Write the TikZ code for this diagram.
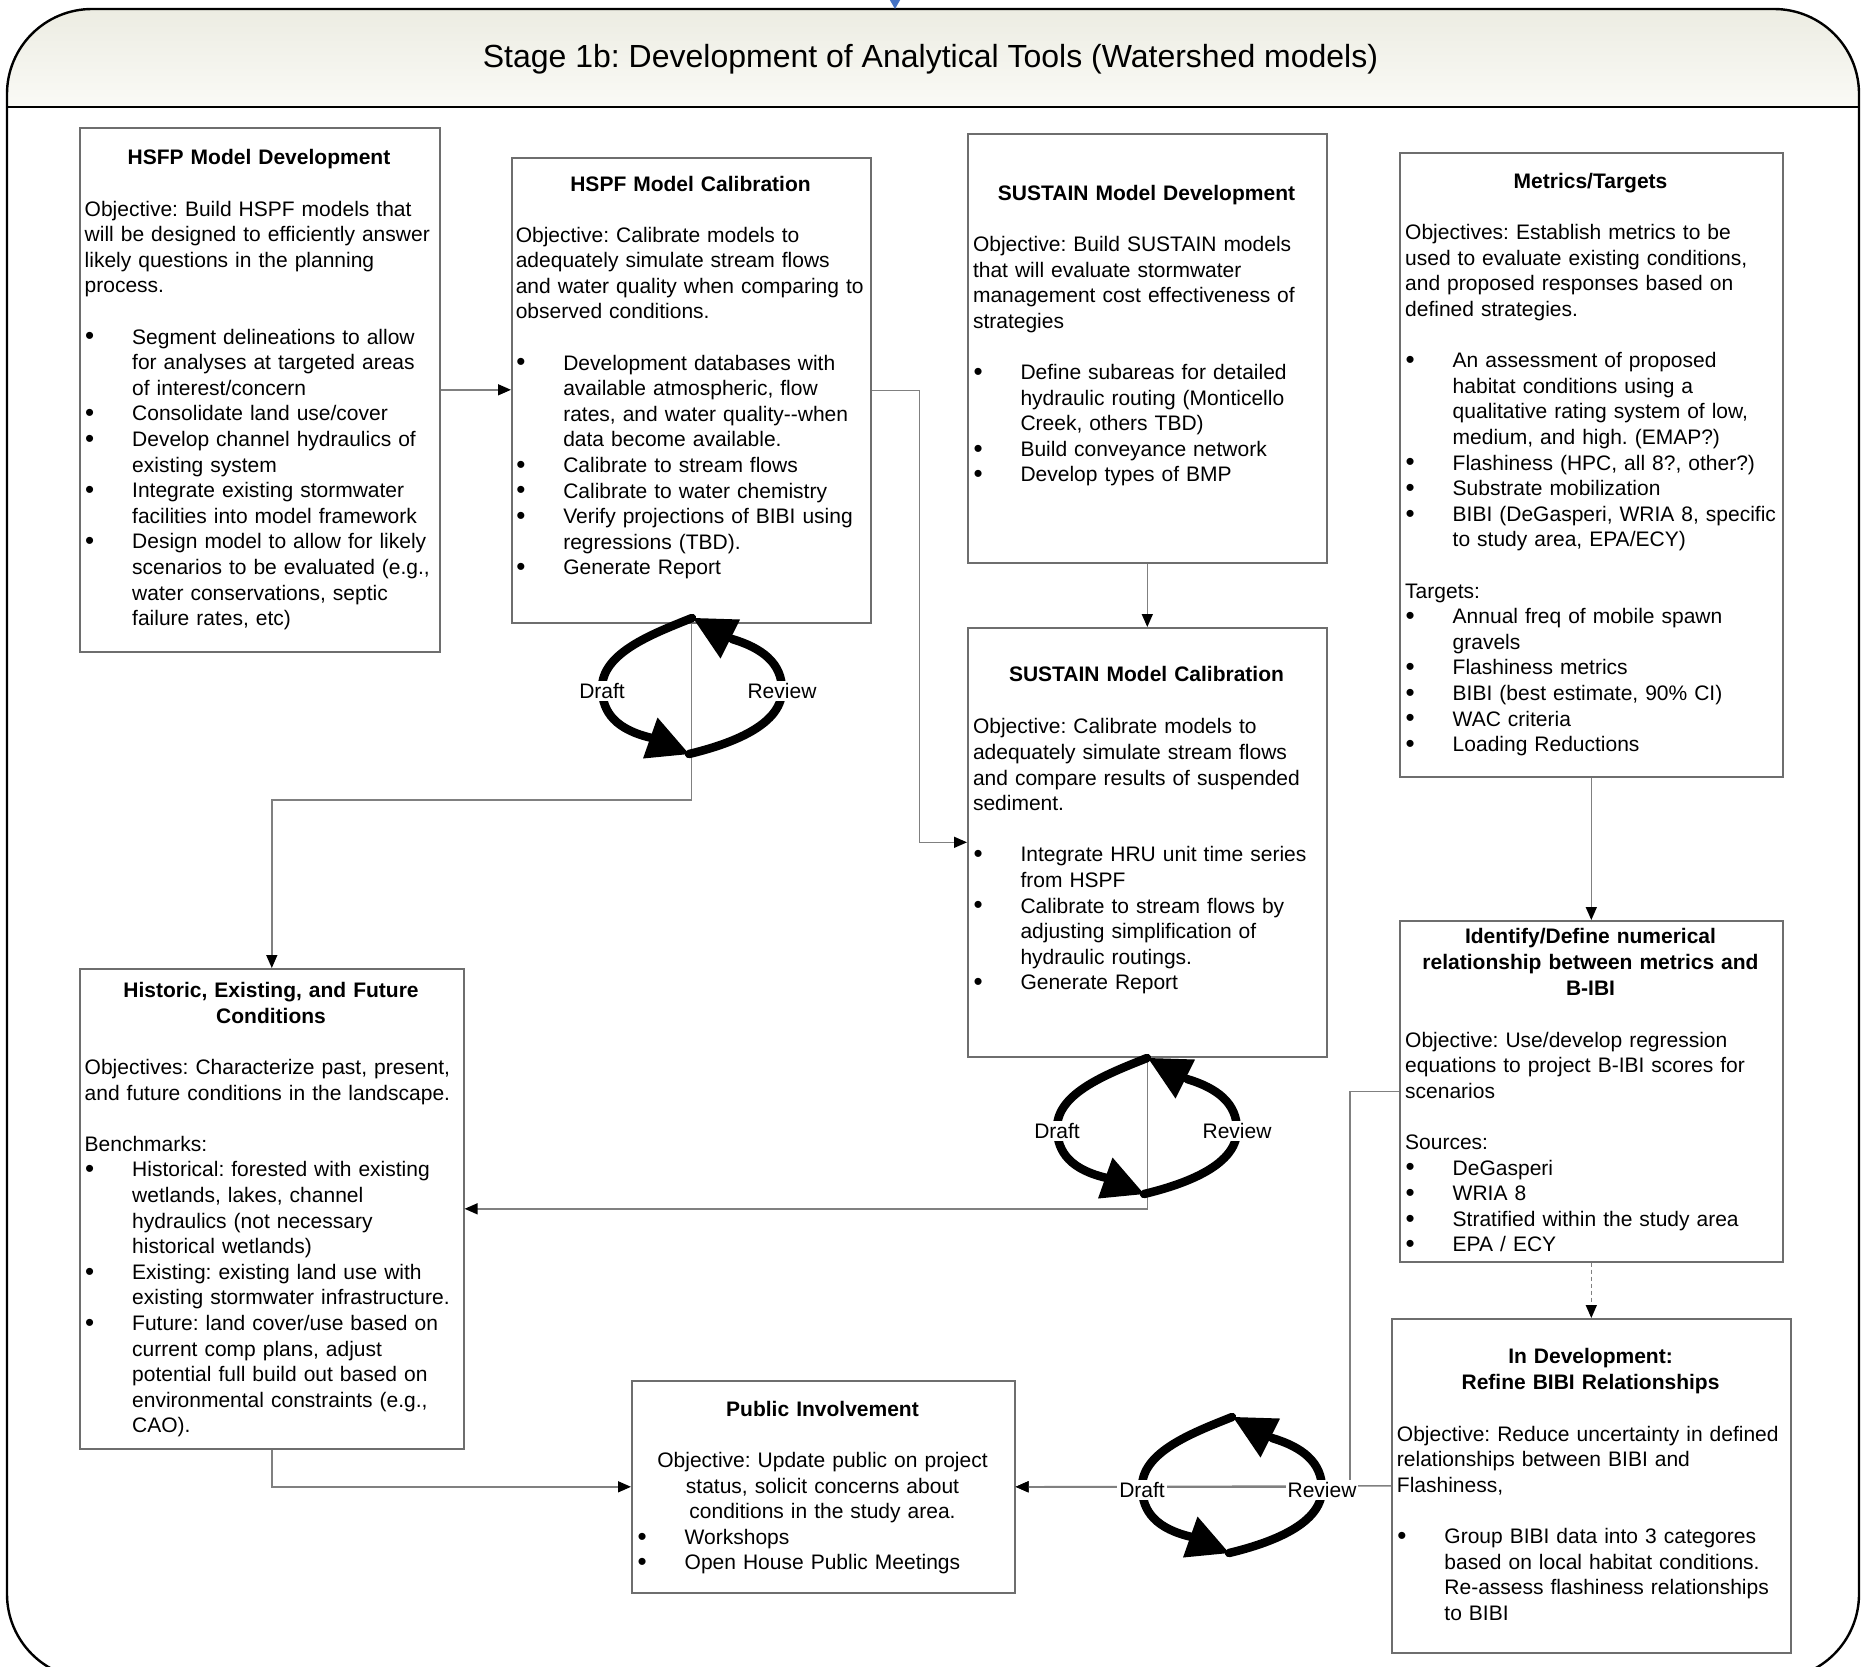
\documentclass[tikz,border=0pt]{standalone}
\usepackage{fontspec}
\setmainfont{Liberation Sans}
\usetikzlibrary{arrows.meta,calc}
\definecolor{boxgray}{RGB}{110,110,110}
\definecolor{linegray}{RGB}{128,128,128}
\definecolor{hdtop}{RGB}{236,236,226}
\definecolor{hdbot}{RGB}{250,250,246}
\definecolor{arrowblue}{RGB}{68,114,196}
\newcommand{\bul}{\makebox[47.5pt][l]{\hspace{0.5pt}\raisebox{-0.8pt}{\fontsize{26}{26}\selectfont\textbullet}}}
\newcommand{\ind}{\hspace*{47.5pt}}
\tikzset{
  box/.style={draw=boxgray, line width=1.6pt, fill=white, inner sep=0pt, anchor=north west},
  ttl/.style={font=\fontsize{21}{26}\selectfont\bfseries\frenchspacing, align=center, anchor=base, inner sep=0pt, text width=370pt},
  txt/.style={font=\fontsize{21}{25.6}\selectfont\frenchspacing, align=left, anchor=base west, inner sep=0pt, text width=420pt},
  ctxt/.style={font=\fontsize{21}{25.6}\selectfont\frenchspacing, align=center, anchor=base, inner sep=0pt, text width=380pt},
  conn/.style={draw=linegray, line width=1.5pt, -{Triangle[length=13pt,width=11pt,color=black]}},
  dconn/.style={conn, dash pattern=on 4pt off 3pt},
  cyc/.style={draw=black, line width=8.5pt, line cap=round},
  lbl/.style={font=\fontsize{21}{25}\selectfont, fill=white, inner sep=2pt},
}
\newcommand{\drcycle}[3]{%
  \begin{scope}[shift={(#1,#2)}]
    \draw[cyc] (0,0) .. controls (-40,16) and (-90,35) .. (-90,70)
               .. controls (-90,95) and (-75,112) .. (-40,120);
    \fill (-3,136) -- (-34.5,99.5) -- (-49,140.5) -- cycle;
    \draw[cyc] (-3,136) .. controls (30,128) and (90,110) .. (90,72)
               .. controls (90,45) and (70,30) .. (40,21);
    \fill (1,0) -- (48,1.5) -- (28.5,40.5) -- cycle;
    \node[lbl] (#3d) at (-90,73) {Draft};
    \node[lbl] (#3r) at (90,73) {Review};
  \end{scope}}
\begin{document}
\frenchspacing
\begin{tikzpicture}[x=1pt,y=-1pt]
\path[use as bounding box] (0,0) rectangle (1867,1666);
\clip (0,0) rectangle (1867,1666);
\fill[white] (0,0) rectangle (1867,1666);
% header shading
\begin{scope}
  \clip[rounded corners=85pt] (7,1679) -- (7,9) -- (1859,9) -- (1859,1679) -- cycle;
  \shade[top color=hdtop, bottom color=hdbot] (7,9) rectangle (1859,107);
\end{scope}
\draw[line width=2.4pt, rounded corners=85pt] (7,1679) -- (7,9) -- (1859,9) -- (1859,1679) -- cycle;
\draw[line width=2.4pt] (7,107) -- (1859,107);
\node[font=\fontsize{32}{38}\selectfont, anchor=base, inner sep=0pt] (hdr) at (930.5,67)
  {Stage 1b: Development of Analytical Tools (Watershed models)};
% incoming blue arrow
\coordinate (tin) at (895,-20);
\coordinate (tout) at (895,9);
\draw[arrowblue, line width=1.5pt, -{Triangle[length=10pt,width=11pt]}] (tin) -- (tout);

% boxes
\node[box, minimum width=360pt, minimum height=524pt] (b1) at (79,127) {};
\node[box, minimum width=359pt, minimum height=465pt] (b2) at (511,157) {};
\node[box, minimum width=359pt, minimum height=429pt] (b3) at (967,133) {};
\node[box, minimum width=383pt, minimum height=624pt] (b4) at (1399,152) {};
\node[box, minimum width=359pt, minimum height=429pt] (b5) at (967,627) {};
\node[box, minimum width=384pt, minimum height=480pt] (b6) at (79,968) {};
\node[box, minimum width=383pt, minimum height=341pt] (b7) at (1399,920) {};
\node[box, minimum width=399pt, minimum height=334pt] (b8) at (1391,1318) {};
\node[box, minimum width=383pt, minimum height=212pt] (b9) at (631,1380) {};

% connectors
\coordinate (k1) at (0,800);
\draw[conn] (b1.east) -- (b2.west |- b1.east);
\draw[conn] (b2.east) -- ++(48,0) |- (b5.west);
\draw[conn] (b2.south) -- (b2.south |- k1) -| (b6.north);
\draw[conn] (b3.south) -- (b5.north);
\draw[conn] (b5.south) |- (b6.east);
\draw[conn] (b4.south) -- (b7.north);
\draw[dconn] (b7.south) -- (b8.north);
\draw[conn] (b6.south) |- (b9.west);
\draw[conn] (b8.west) -- (b9.east);
\draw[conn] (b7.west) -- ++(-49,0) |- (b9.east);

% draft/review cycles
\drcycle{692}{618}{cA}
\drcycle{1147}{1058}{cB}
\drcycle{1232}{1417}{cC}

% titles
\node[ttl] (t1) at (259,164.7) {HSFP Model Development};
\node[ttl] (t2) at (690.5,191) {HSPF Model Calibration};
\node[ttl] (t3) at (1146.5,200.4) {SUSTAIN Model Development};
\node[ttl] (t4) at (1590.5,188.5) {Metrics/Targets};
\node[ttl] (t5) at (1146.5,681.5) {SUSTAIN Model Calibration};
\node[ttl] (t6) at (271,997) {Historic, Existing, and Future\\Conditions};
\node[ttl] (t7) at (1590.5,943.5) {Identify/Define numerical\\relationship between metrics and\\B-IBI};
\node[ttl] (t8) at (1590.5,1363.5) {In Development:\\Refine BIBI Relationships};
\node[ttl] (t9) at (822.5,1416) {Public Involvement};

% bodies
\node[txt] (x1) at (84.5,216) {Objective: Build HSPF models that\\
will be designed to efficiently answer\\
likely questions in the planning\\
process.\\[25.6pt]
\bul Segment delineations to allow\\
\ind for analyses at targeted areas\\
\ind of interest/concern\\
\bul Consolidate land use/cover\\
\bul Develop channel hydraulics of\\
\ind existing system\\
\bul Integrate existing stormwater\\
\ind facilities into model framework\\
\bul Design model to allow for likely\\
\ind scenarios to be evaluated (e.g.,\\
\ind water conservations, septic\\
\ind failure rates, etc)};

\node[txt] (x2) at (515.6,242) {Objective: Calibrate models to\\
adequately simulate stream flows\\
and water quality when comparing to\\
observed conditions.\\[25.6pt]
\bul Development databases with\\
\ind available atmospheric, flow\\
\ind rates, and water quality-{}-when\\
\ind data become available.\\
\bul Calibrate to stream flows\\
\bul Calibrate to water chemistry\\
\bul Verify projections of BIBI using\\
\ind regressions (TBD).\\
\bul Generate Report};

\node[txt] (x3) at (972.8,251.5) {Objective: Build SUSTAIN models\\
that will evaluate stormwater\\
management cost effectiveness of\\
strategies\\[25.6pt]
\bul Define subareas for detailed\\
\ind hydraulic routing (Monticello\\
\ind Creek, others TBD)\\
\bul Build conveyance network\\
\bul Develop types of BMP};

\node[txt] (x4) at (1405,239.7) {Objectives: Establish metrics to be\\
used to evaluate existing conditions,\\
and proposed responses based on\\
defined strategies.\\[25.6pt]
\bul An assessment of proposed\\
\ind habitat conditions using a\\
\ind qualitative rating system of low,\\
\ind medium, and high. (EMAP?)\\
\bul Flashiness (HPC, all 8?, other?)\\
\bul Substrate mobilization\\
\bul BIBI (DeGasperi, WRIA 8, specific\\
\ind to study area, EPA/ECY)\\[25.6pt]
Targets:\\
\bul Annual freq of mobile spawn\\
\ind gravels\\
\bul Flashiness metrics\\
\bul BIBI (best estimate, 90\% CI)\\
\bul WAC criteria\\
\bul Loading Reductions};

\node[txt] (x5) at (972.8,733.8) {Objective: Calibrate models to\\
adequately simulate stream flows\\
and compare results of suspended\\
sediment.\\[25.6pt]
\bul Integrate HRU unit time series\\
\ind from HSPF\\
\bul Calibrate to stream flows by\\
\ind adjusting simplification of\\
\ind hydraulic routings.\\
\bul Generate Report};

\node[txt] (x6) at (84.5,1074.4) {Objectives: Characterize past, present,\\
and future conditions in the landscape.\\[25.6pt]
Benchmarks:\\
\bul Historical: forested with existing\\
\ind wetlands, lakes, channel\\
\ind hydraulics (not necessary\\
\ind historical wetlands)\\
\bul Existing: existing land use with\\
\ind existing stormwater infrastructure.\\
\bul Future: land cover/use based on\\
\ind current comp plans, adjust\\
\ind potential full build out based on\\
\ind environmental constraints (e.g.,\\
\ind CAO).};

\node[txt] (x7) at (1405,1047) {Objective: Use/develop regression\\
equations to project B-IBI scores for\\
scenarios\\[25.6pt]
Sources:\\
\bul DeGasperi\\
\bul WRIA 8\\
\bul Stratified within the study area\\
\bul EPA / ECY};

\node[txt] (x8) at (1396.7,1441) {Objective: Reduce uncertainty in defined\\
relationships between BIBI and\\
Flashiness,\\[25.6pt]
\bul Group BIBI data into 3 categores\\
\ind based on local habitat conditions.\\
\ind Re-assess flashiness relationships\\
\ind to BIBI};

\node[ctxt] (x9c) at (822.5,1467.5) {Objective: Update public on project\\
status, solicit concerns about\\
conditions in the study area.};
\node[txt] (x9b) at (637,1544.3) {\bul Workshops\\
\bul Open House Public Meetings};
\end{tikzpicture}
\end{document}
